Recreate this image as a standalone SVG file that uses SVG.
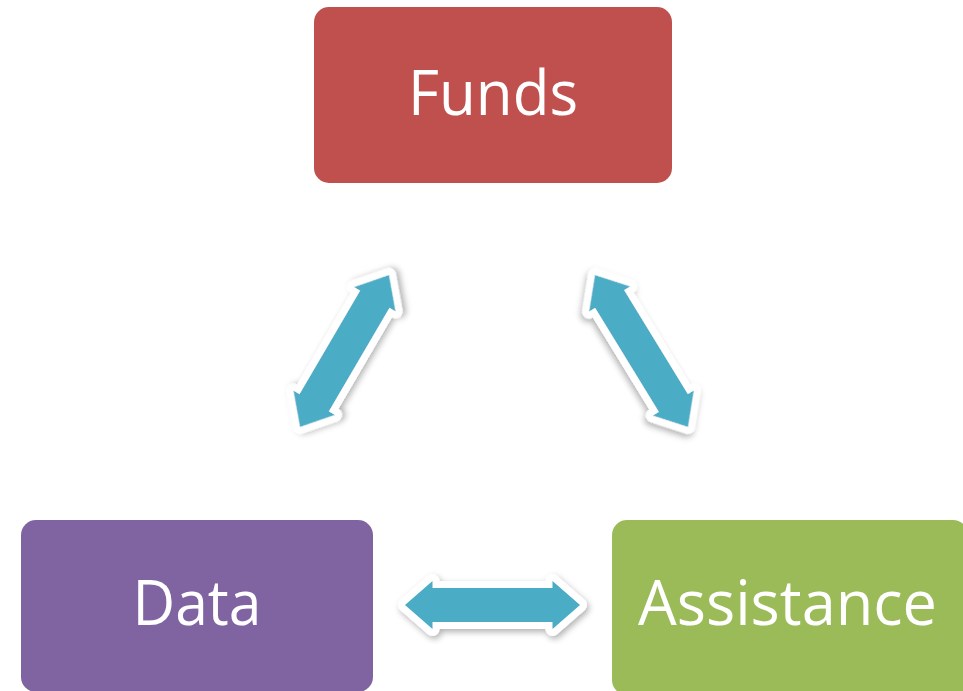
<svg xmlns="http://www.w3.org/2000/svg" width="963" height="691" viewBox="0 0 963 691">
<defs>
<style>
.lbl{font-family:"Open Sans","Noto Sans","Liberation Sans",sans-serif;font-size:62px;fill:#fff;text-anchor:middle}
.arr{fill:#4BACC6;stroke:#fff;stroke-width:14;stroke-linejoin:round;paint-order:stroke;filter:url(#sh)}
</style>
<filter id="sh" x="-30%" y="-30%" width="160%" height="160%">
<feDropShadow dx="2" dy="3" stdDeviation="3" flood-color="#000" flood-opacity="0.3"/>
</filter>
</defs>
<rect width="963" height="691" fill="#fff"/>
<g id="funds">
<rect x="314" y="7" width="358" height="176" rx="15" fill="#C0504D"/>
<text class="lbl" x="493" y="115" textLength="170" lengthAdjust="spacingAndGlyphs">Funds</text>
</g>
<g id="data">
<rect x="21" y="520" width="352" height="172" rx="15" fill="#8064A2"/>
<text class="lbl" x="197" y="625" textLength="129" lengthAdjust="spacingAndGlyphs">Data</text>
</g>
<g id="assistance">
<rect x="612" y="520" width="356" height="175" rx="15" fill="#9BBB59"/>
<text class="lbl" x="787.5" y="625" textLength="299" lengthAdjust="spacingAndGlyphs">Assistance</text>
</g>
<g id="connectors">
<path class="arr" transform="translate(492.5,605)" d="M-87.5,0 L-60,-24 L-60,-17 L60,-17 L60,-24 L87.5,0 L60,24 L60,17 L-60,17 L-60,24 Z"/>
<path class="arr" transform="translate(344.5,351) rotate(-59.65)" d="M-88,0 L-60,-24 L-60,-17 L60,-17 L60,-24 L88,0 L60,24 L60,17 L-60,17 L-60,24 Z"/>
<path class="arr" transform="translate(641.5,351) rotate(58.5)" d="M-89,0 L-61,-24 L-61,-17 L61,-17 L61,-24 L89,0 L61,24 L61,17 L-61,17 L-61,24 Z"/>
</g>
</svg>
